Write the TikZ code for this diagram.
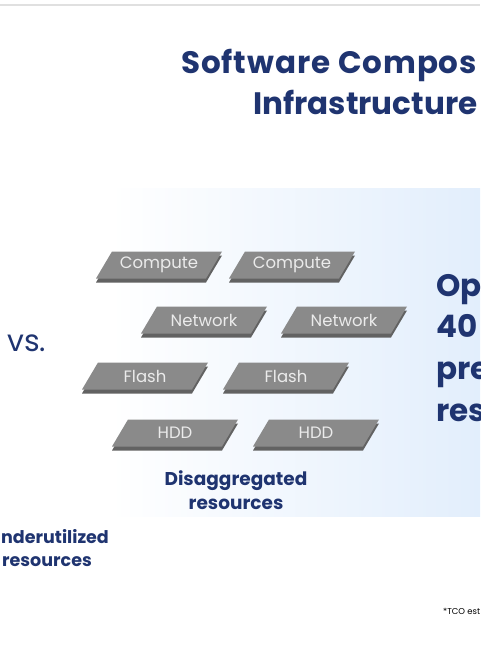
\documentclass[tikz,border=0pt]{standalone}
\usepackage{fontspec}
\setmainfont{Poppins}
\usetikzlibrary{positioning}
\definecolor{navy}{RGB}{31,52,112}
\definecolor{slabtop}{RGB}{138,138,138}
\definecolor{slabside}{RGB}{98,98,98}
\definecolor{panelblue}{RGB}{226,238,252}

\begin{document}
\begin{tikzpicture}[x=1pt,y=-1pt,
  heading/.style={font=\fontsize{31}{36}\selectfont\bfseries,text=navy,inner sep=0pt},
  caption/.style={font=\fontsize{18.5}{24}\selectfont\bfseries,text=navy,inner sep=0pt},
  slablabel/.style={font=\fontsize{16.5}{18}\selectfont,text=black!8,inner sep=0pt}]
  \useasboundingbox (0,0) rectangle (480,650);
  \clip (0,0) rectangle (480,650);
  \fill[white] (0,0) rectangle (480,650);
  \draw[black!12,line width=2pt] (0,5) -- (480,5);
  % blue panel behind the slabs
  \shade[left color=white,right color=panelblue] (110,188) rectangle (480,516);

  \node[heading,anchor=base west] (title1) at (181,74) {\addfontfeature{LetterSpace=3}Software Compos};
  \node[heading,anchor=base west] (title2) at (253,115) {Infrastructure};

  % disaggregated slabs
  \foreach \cx/\cy/\lab/\nm in {159/265/Compute/comp1,292/265/Compute/comp2,
      204/320/Network/net1,344/320/Network/net2,
      145/376/Flash/flash1,286/376/Flash/flash2,
      175/433/HDD/hdd1,316/433/HDD/hdd2}{
    \fill[slabside] (\cx-63,\cy+17.5) -- ++(110,0) -- ++(16,-27) -- ++(-110,0) -- cycle;
    \fill[slabtop] (\cx-63,\cy+13.5) -- ++(110,0) -- ++(16,-27) -- ++(-110,0) -- cycle;
    \node[slablabel] (\nm) at (\cx,\cy) {\lab};
  }

  \node[font=\fontsize{30}{32}\selectfont,text=navy,inner sep=0pt,anchor=base west] (vs) at (7,351) {vs.};

  \node[caption,align=center] (disagg) at (236,490) {Disaggregated\\resources};
  \node[caption,font=\fontsize{17.5}{22}\selectfont\bfseries,anchor=base west] (under1) at (1,543) {nderutilized};
  \node[caption,font=\fontsize{17.5}{22}\selectfont\bfseries,anchor=base west] (under2) at (2,566) {resources};

  \foreach \t/\y/\nm in {Op/296/opt1,40/337/opt2,pre/379/opt3,res/421/opt4}
    \node[heading,anchor=base west] (\nm) at (436,\y) {\t};

  \node[font=\fontsize{8.5}{10}\selectfont,inner sep=0pt,anchor=base west] (tco) at (443,614) {*TCO est};
\end{tikzpicture}
\end{document}
